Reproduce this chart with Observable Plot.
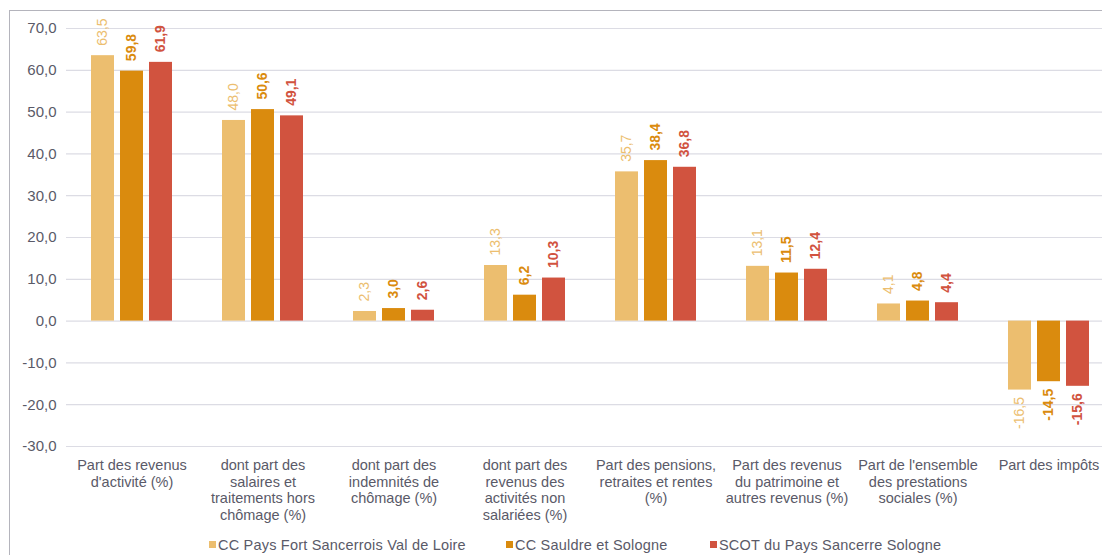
<!DOCTYPE html>
<html>
<head>
<meta charset="utf-8">
<script src="https://cdn.jsdelivr.net/npm/d3@7"></script>
<script src="https://cdn.jsdelivr.net/npm/@observablehq/plot@0.6"></script>
<style>
  html, body { margin: 0; padding: 0; background: #fff; }
  #wrap { position: relative; width: 1102px; height: 555px; overflow: hidden; font-family: "Liberation Sans", Arial, sans-serif; }
  #frame { position: absolute; left: 9px; top: 10px; width: 1200px; height: 600px; border: 1px solid #b4b4bc; box-sizing: border-box; }
  #grid, #chart { position: absolute; left: 0; top: 0; }
  #legend { position: absolute; left: 0; top: 536px; width: 1102px; height: 18px; font-size: 14.5px; letter-spacing: 0.2px; color: #5a5a68; }
  .item { position: absolute; top: 0; white-space: nowrap; line-height: 18px; }
  .sw { display: inline-block; width: 7px; height: 7px; margin-right: 2px; vertical-align: 2px; }
</style>
</head>
<body>
<div id="wrap">
  <div id="frame"></div>
  <div id="grid"></div>
  <div id="chart"></div>
  <div id="legend"></div>
</div>
<script>
const categories = [
  "Part des revenus\nd'activité (%)",
  "dont part des\nsalaires et\ntraitements hors\nchômage (%)",
  "dont part des\nindemnités de\nchômage (%)",
  "dont part des\nrevenus des\nactivités non\nsalariées (%)",
  "Part des pensions,\nretraites et rentes\n(%)",
  "Part des revenus\ndu patrimoine et\nautres revenus (%)",
  "Part de l'ensemble\ndes prestations\nsociales (%)",
  "Part des impôts"
];
const seriesNames = ["CC Pays Fort Sancerrois Val de Loire", "CC Sauldre et Sologne", "SCOT du Pays Sancerre Sologne"];
const seriesColors = ["#ECBE6F", "#DA8B0E", "#D1533F"];
const valuesFortSancerrois = [63.5, 48.0, 2.3, 13.3, 35.7, 13.1, 4.1, -16.5];
const valuesSauldreSologne = [59.8, 50.6, 3.0, 6.2, 38.4, 11.5, 4.8, -14.5];
const valuesScotSancerre = [61.9, 49.1, 2.6, 10.3, 36.8, 12.4, 4.4, -15.6];
const yTicks = [-30, -20, -10, 0, 10, 20, 30, 40, 50, 60, 70];
const legendLeft = [209, 506, 710];

const seriesValues = [valuesFortSancerrois, valuesSauldreSologne, valuesScotSancerre];
const table = categories.flatMap((c, i) => seriesNames.map((s, j) => ({cat: c, series: s, idx: j, value: seriesValues[j][i]})));
const fmt = d => d.toFixed(1).replace(".", ",");

const common = {
  width: 1102, height: 534,
  marginTop: 28, marginBottom: 88, marginLeft: 66, marginRight: 0,
  style: {fontFamily: "'Liberation Sans', Arial, sans-serif", background: "transparent", color: "#5a5a68", overflow: "visible"}
};

// Background: continuous gridlines and y tick labels
const grid = Plot.plot({
  ...common,
  y: {domain: [-30, 70], axis: null},
  marks: [
    Plot.ruleY(yTicks, {y: d => d, stroke: "#dcdce4", strokeWidth: 1.2}),
    Plot.text(yTicks, {y: d => d, text: d => fmt(d), frameAnchor: "left", textAnchor: "end", dx: -10, fontSize: 15, fill: "#5a5a68"})
  ]
});
document.getElementById("grid").appendChild(grid);

function valueLabels(filter, positive, weight) {
  return Plot.text(table.filter(d => filter(d) && (positive ? d.value >= 0 : d.value < 0)), {
    fx: "cat", x: "series", y: "value", text: d => fmt(d.value), fill: "series",
    rotate: -90, textAnchor: positive ? "start" : "end", dy: positive ? -10 : 7,
    fontSize: 14, fontWeight: weight
  });
}

const chart = Plot.plot({
  ...common,
  fx: {domain: categories, range: [66, 1114], paddingInner: 0.38, paddingOuter: 0.19, label: null},
  x: {domain: seriesNames, paddingInner: 0.22, paddingOuter: 0, axis: null},
  y: {domain: [-30, 70], axis: null},
  color: {domain: seriesNames, range: seriesColors},
  marks: [
    Plot.barY(table, {fx: "cat", x: "series", y: "value", fill: "series"}),
    valueLabels(d => d.idx === 0, true, "normal"),
    valueLabels(d => d.idx === 0, false, "normal"),
    valueLabels(d => d.idx > 0, true, "bold"),
    valueLabels(d => d.idx > 0, false, "bold"),
    Plot.axisFx({anchor: "bottom", tickSize: 0, tickPadding: 11, fontSize: 14.5, lineHeight: 1.17, label: null})
  ]
});
document.getElementById("chart").appendChild(chart);

const legend = document.getElementById("legend");
seriesNames.forEach((s, j) => {
  const it = document.createElement("div");
  it.className = "item";
  it.style.left = legendLeft[j] + "px";
  const sw = document.createElement("span");
  sw.className = "sw";
  sw.style.background = seriesColors[j];
  it.appendChild(sw);
  it.appendChild(document.createTextNode(s));
  legend.appendChild(it);
});
</script>
</body>
</html>
